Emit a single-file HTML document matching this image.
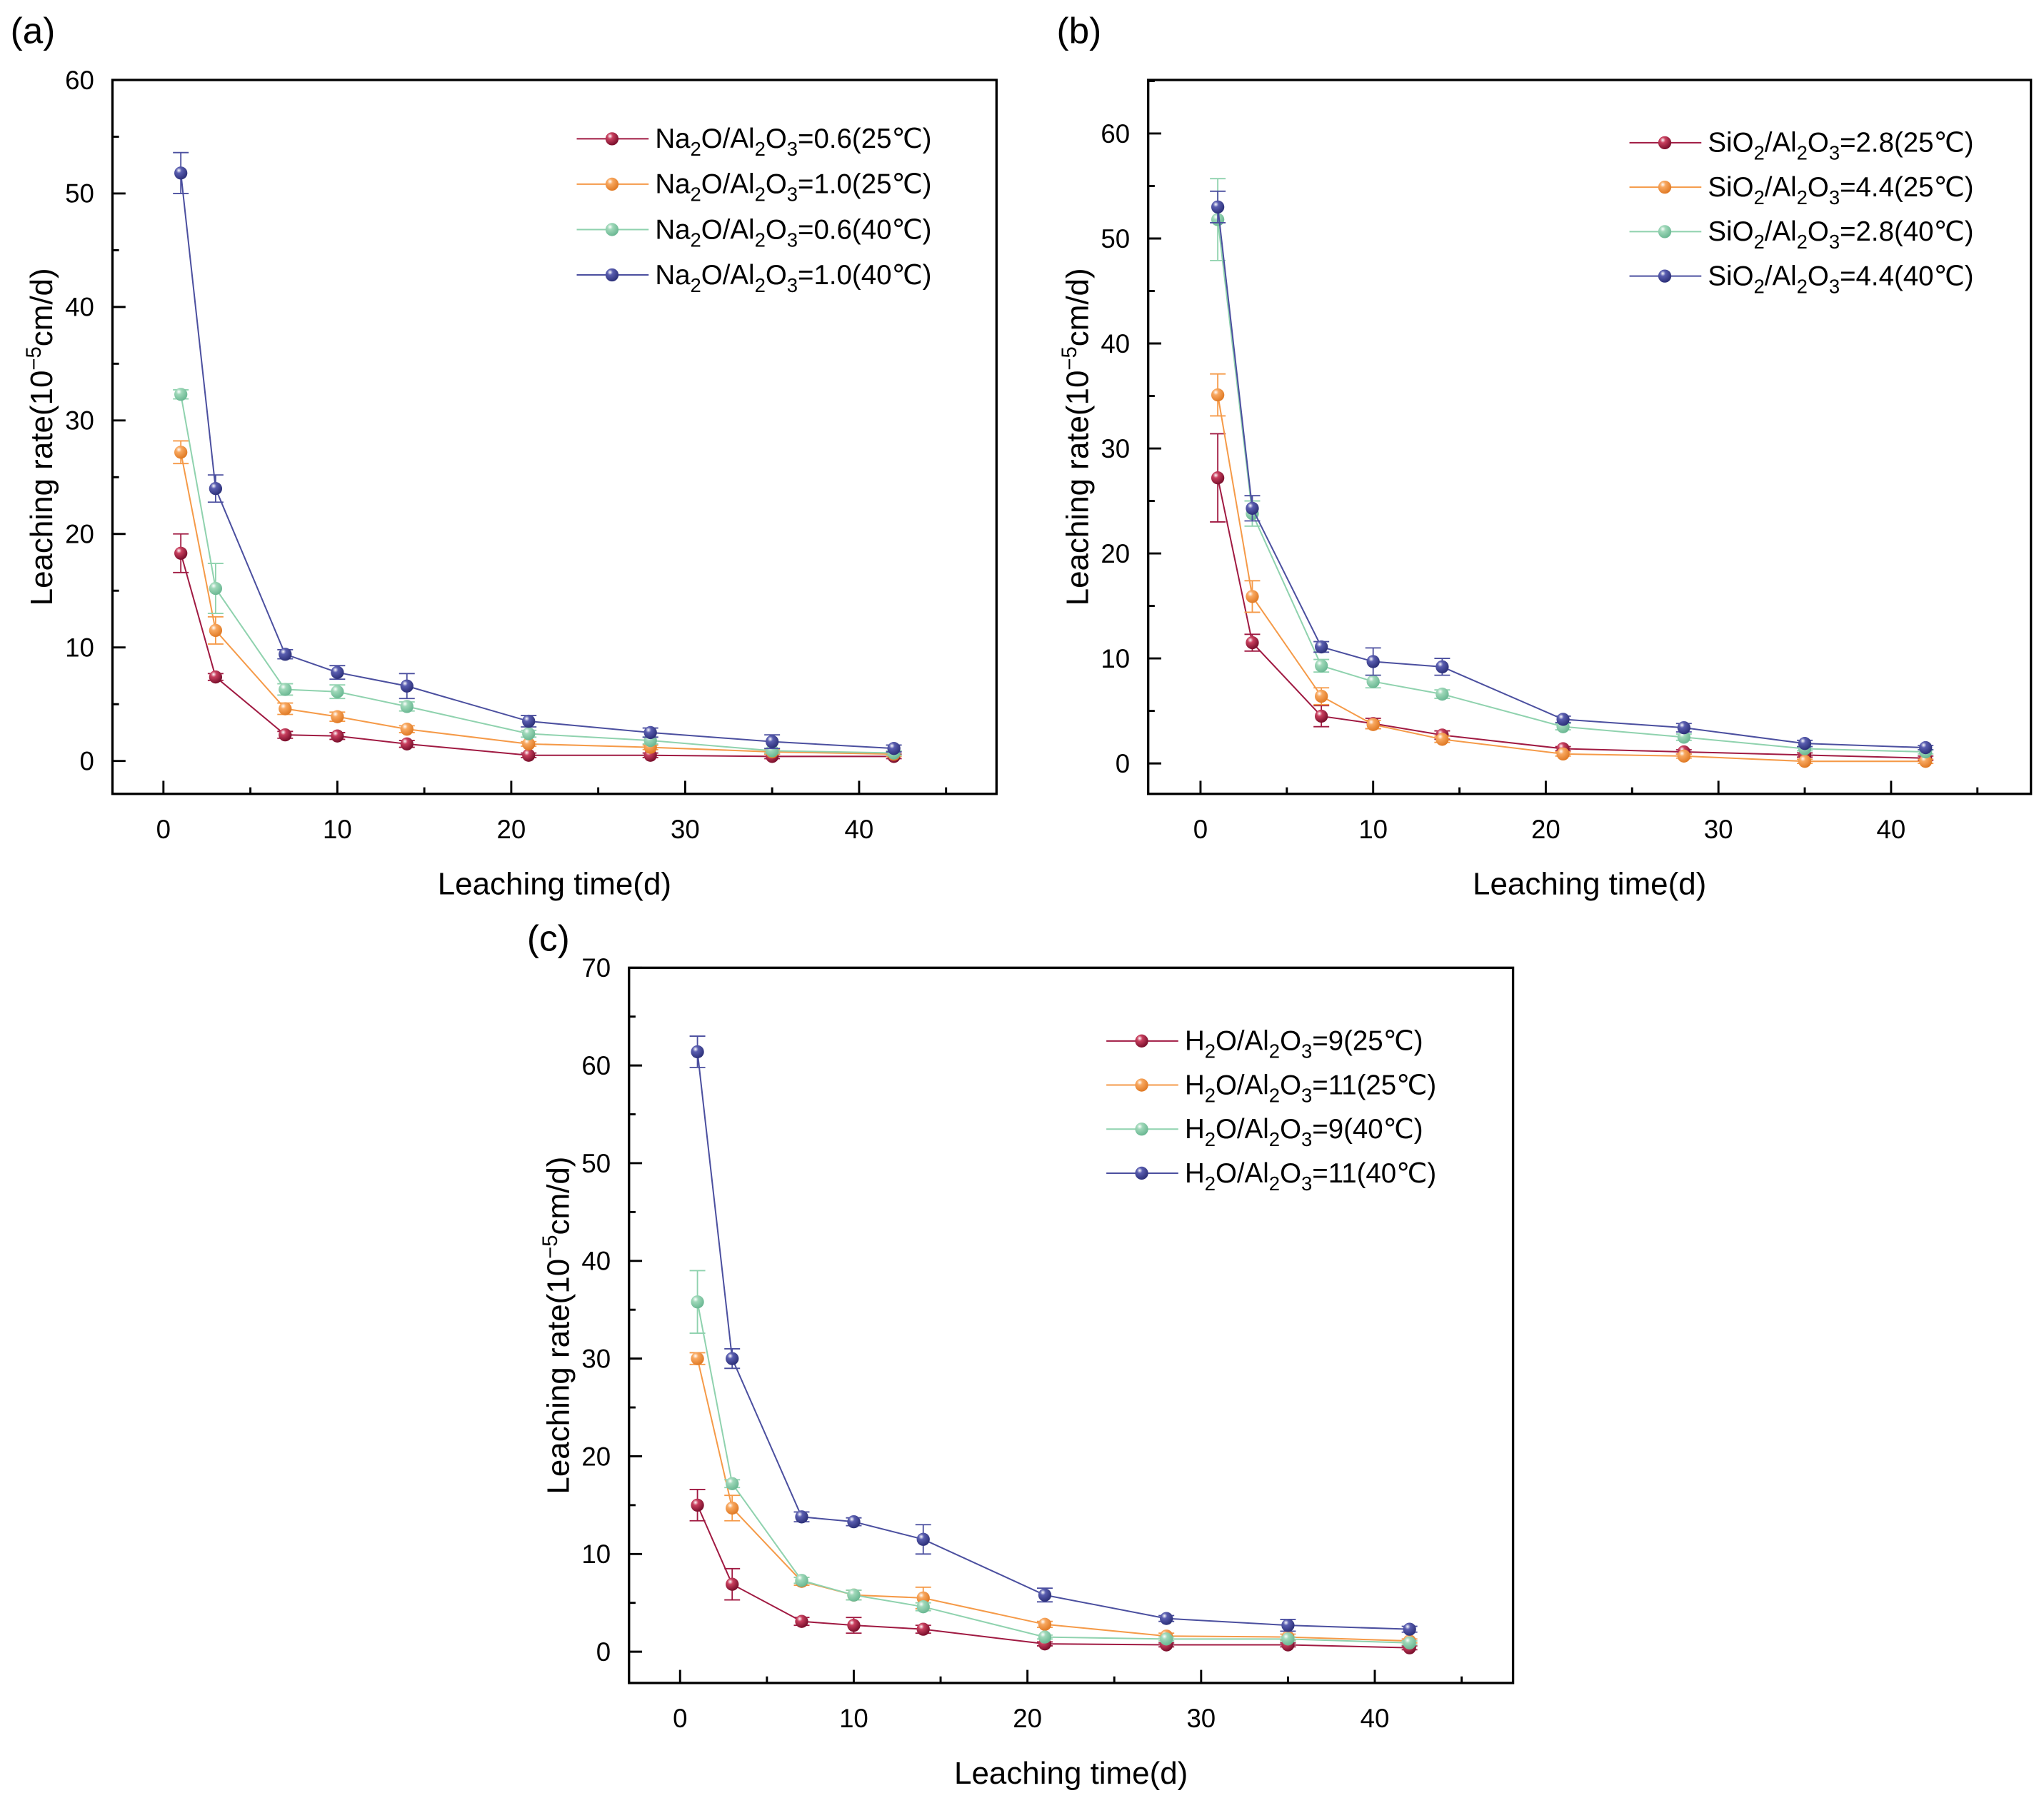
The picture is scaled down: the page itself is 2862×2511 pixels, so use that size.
<!DOCTYPE html>
<html><head><meta charset="utf-8"><style>
html,body{margin:0;padding:0;background:#fff;}
svg{display:block;font-family:"Liberation Sans",Arial,sans-serif;}
</style></head><body>
<svg id="fig" width="2862" height="2511" viewBox="0 0 1563 1371" xmlns="http://www.w3.org/2000/svg">
<defs>
<radialGradient id="g0" cx="0.35" cy="0.3" r="0.7"><stop offset="0" stop-color="#fff"/><stop offset="0.3" stop-color="#c9405f"/><stop offset="1" stop-color="#7a0f2c"/></radialGradient>
<radialGradient id="g1" cx="0.35" cy="0.3" r="0.7"><stop offset="0" stop-color="#fff"/><stop offset="0.3" stop-color="#f8a860"/><stop offset="1" stop-color="#e07a25"/></radialGradient>
<radialGradient id="g2" cx="0.35" cy="0.3" r="0.7"><stop offset="0" stop-color="#fff"/><stop offset="0.3" stop-color="#9fd8b9"/><stop offset="1" stop-color="#6bb893"/></radialGradient>
<radialGradient id="g3" cx="0.35" cy="0.3" r="0.7"><stop offset="0" stop-color="#fff"/><stop offset="0.3" stop-color="#5a5eb0"/><stop offset="1" stop-color="#2d317a"/></radialGradient>
</defs>
</svg>
<script>
const xs = [1,3,7,10,14,21,28,35,42];
const aS1 = [18.3,7.4,2.3,2.2,1.5,0.5,0.5,0.4,0.4];
const aS2 = [27.2,11.5,4.6,3.9,2.8,1.5,1.2,0.8,0.6];
const aS3 = [32.3,15.2,6.3,6.1,4.8,2.4,1.8,0.9,0.7];
const aS4 = [51.8,24.0,9.4,7.8,6.6,3.5,2.5,1.7,1.1];
const aE1 = [1.7,0.3,0.3,0.3,0.3,0.2,0.2,0.2,0.2];
const aE2 = [1.0,1.2,0.5,0.4,0.3,0.2,0.2,0.2,0.2];
const aE3 = [0.4,2.2,0.5,0.6,0.4,0.3,0.3,0.2,0.2];
const aE4 = [1.8,1.2,0.4,0.6,1.1,0.5,0.4,0.6,0.3];
const bS1 = [27.2,11.5,4.5,3.8,2.7,1.4,1.1,0.8,0.5];
const bS2 = [35.1,15.9,6.4,3.7,2.3,0.9,0.7,0.2,0.2];
const bS3 = [51.8,23.8,9.3,7.8,6.6,3.5,2.5,1.4,1.1];
const bS4 = [53.0,24.3,11.1,9.7,9.2,4.2,3.4,1.9,1.5];
const bE1 = [4.2,0.8,1.0,0.5,0.4,0.2,0.2,0.2,0.2];
const bE2 = [2.0,1.5,0.8,0.4,0.3,0.2,0.2,0.2,0.2];
const bE3 = [3.9,1.2,0.6,0.6,0.4,0.3,0.3,0.2,0.2];
const bE4 = [1.5,1.2,0.5,1.3,0.8,0.3,0.4,0.3,0.2];
const cS1 = [15.0,6.9,3.1,2.7,2.3,0.8,0.7,0.7,0.4];
const cS2 = [30.0,14.7,7.2,5.8,5.5,2.8,1.6,1.5,1.1];
const cS3 = [35.8,17.2,7.3,5.8,4.6,1.5,1.3,1.3,0.9];
const cS4 = [61.4,30.0,13.8,13.3,11.5,5.8,3.4,2.7,2.3];
const cE1 = [1.6,1.6,0.4,0.8,0.4,0.2,0.2,0.2,0.2];
const cE2 = [0.6,1.3,0.4,0.5,1.1,0.3,0.3,0.3,0.2];
const cE3 = [3.2,0.4,0.3,0.5,0.4,0.2,0.2,0.2,0.2];
const cE4 = [1.6,1.0,0.5,0.4,1.5,0.7,0.3,0.6,0.3];
const xTicks = [0,10,20,30,40];
const aYTicks = [0,10,20,30,40,50,60];
const bYTicks = [0,10,20,30,40,50,60];
const cYTicks = [0,10,20,30,40,50,60,70];
const aNames = ["0.6(25℃)","1.0(25℃)","0.6(40℃)","1.0(40℃)"];
const bNames = ["2.8(25℃)","4.4(25℃)","2.8(40℃)","4.4(40℃)"];
const cNames = ["9(25℃)","11(25℃)","9(40℃)","11(40℃)"];
const colors = ["#a01a42","#f59a48","#8fd2ae","#4b4f9f"];

const NS="http://www.w3.org/2000/svg";
const svg=document.getElementById('fig');
function el(tag,attrs,parent,text){const e=document.createElementNS(NS,tag);for(const k in attrs)e.setAttribute(k,attrs[k]);if(text!==undefined)e.textContent=text;(parent||svg).appendChild(e);return e;}

function legendText(g,x,y,prefix,val){
  const t=el('text',{x:x,y:y,'font-size':21,fill:'#000'},g);
  const parts = prefix==='Na'?[['Na',0],['2',1],['O/Al',0],['2',1],['O',0],['3',1],['='+val,0]]:
                prefix==='Si'?[['SiO',0],['2',1],['/Al',0],['2',1],['O',0],['3',1],['='+val,0]]:
                [['H',0],['2',1],['O/Al',0],['2',1],['O',0],['3',1],['='+val,0]];
  let prevSub=0;
  for(const [s,sub] of parts){
    const a={};
    if(sub) a['font-size']=15;
    a.dy = sub&&!prevSub?6:(!sub&&prevSub?-6:0);
    el('tspan',a,t,s);
    prevSub=sub;
  }
  return t;
}

function panel(cfg){
  const g=el('g',{});
  
  
  const {L,R,T,B,xmin,xmax,ymin,ymax}=cfg;
  const sx=v=>L+(v-xmin)/(xmax-xmin)*(R-L);
  const sy=v=>B-(v-ymin)/(ymax-ymin)*(B-T);
  const ax=el('g',{stroke:'#000','stroke-width':1.6},g);
  
  
  for(const v of xTicks){
    el('line',{x1:sx(v),x2:sx(v),y1:B,y2:B-10},ax);
    el('line',{x1:sx(v+5),x2:sx(v+5),y1:B,y2:B-5},ax);
    const t=el('text',{x:sx(v),y:B+34,'font-size':20,'text-anchor':'middle',stroke:'none',fill:'#000'},g,String(v));
    
    
  }
  for(const v of cfg.yTicks){
    el('line',{x1:L,x2:L+10,y1:sy(v),y2:sy(v)},ax);
    if(v+5<ymax) el('line',{x1:L,x2:L+5,y1:sy(v+5),y2:sy(v+5)},ax);
    const t=el('text',{x:L-14,y:sy(v)+7,'font-size':20,'text-anchor':'end',fill:'#000'},g,String(v));
    
    
  }
  const frame=el('rect',{x:L,y:T,width:R-L,height:B-T,fill:'none',stroke:'#000','stroke-width':1.8},g);
  
  
  cfg.series.forEach((s,i)=>{
    const sg=el('g',{},g);
    
    
    const pts=xs.map((x,j)=>sx(x)+','+sy(s[j])).join(' ');
    el('polyline',{points:pts,fill:'none',stroke:colors[i],'stroke-width':1.1},sg);
    xs.forEach((x,j)=>{
      const e=cfg.errs[i][j];
      const cx=sx(x);
      el('line',{x1:cx,x2:cx,y1:sy(s[j]-e),y2:sy(s[j]+e),stroke:colors[i],'stroke-width':1},sg);
      el('line',{x1:cx-6,x2:cx+6,y1:sy(s[j]-e),y2:sy(s[j]-e),stroke:colors[i],'stroke-width':1},sg);
      el('line',{x1:cx-6,x2:cx+6,y1:sy(s[j]+e),y2:sy(s[j]+e),stroke:colors[i],'stroke-width':1},sg);
      const c=el('circle',{cx:cx,cy:sy(s[j]),r:5,fill:'url(#g'+i+')'},sg);
      
      
    });
  });
  const lg=el('g',{},g);
  
  
  cfg.names.forEach((n,i)=>{
    const y=cfg.legY+i*cfg.legDy;
    const le=el('g',{},lg);
    
    
    el('line',{x1:cfg.legX,x2:cfg.legX+55,y1:y,y2:y,stroke:colors[i],'stroke-width':1.1},le);
    el('circle',{cx:cfg.legX+27,cy:y,r:5,fill:'url(#g'+i+')'},le);
    legendText(le,cfg.legX+60,y+7,cfg.prefix,n);
  });
  const xl=el('text',{x:(L+R)/2,y:B+77,'font-size':24,'text-anchor':'middle',fill:'#000'},g,'Leaching time(d)');
  
  
  const yl=el('text',{transform:`translate(${L-46},${(T+B)/2}) rotate(-90)`,'font-size':24,'text-anchor':'middle',fill:'#000'},g);
  
  
  el('tspan',{},yl,'Leaching rate(10');
  el('tspan',{dy:-9,'font-size':16},yl,'−5');
  el('tspan',{dy:9},yl,'cm/d)');
  const pl=el('text',{x:cfg.labX,y:cfg.labY,'font-size':28,fill:'#000'},g,cfg.label);
  
  
}

panel({name:'panel-a',L:86,R:762,T:61,B:607,xmin:-2.93,xmax:47.9,ymin:-2.9,ymax:60,yTicks:aYTicks,
  series:[aS1,aS2,aS3,aS4],errs:[aE1,aE2,aE3,aE4],names:aNames,prefix:'Na',legX:441,legY:106,legDy:34.7,label:'(a)',labX:8,labY:33});
panel({name:'panel-b',L:878,R:1553,T:61,B:607,xmin:-3.03,xmax:48.1,ymin:-2.9,ymax:65.1,yTicks:bYTicks,
  series:[bS1,bS2,bS3,bS4],errs:[bE1,bE2,bE3,bE4],names:bNames,prefix:'Si',legX:1246,legY:109,legDy:34,label:'(b)',labX:808,labY:33});
panel({name:'panel-c',L:481,R:1157,T:740,B:1287,xmin:-2.94,xmax:47.96,ymin:-3.2,ymax:70,yTicks:cYTicks,
  series:[cS1,cS2,cS3,cS4],errs:[cE1,cE2,cE3,cE4],names:cNames,prefix:'H',legX:846,legY:796,legDy:33.7,label:'(c)',labX:403,labY:727});
</script>
</body></html>
